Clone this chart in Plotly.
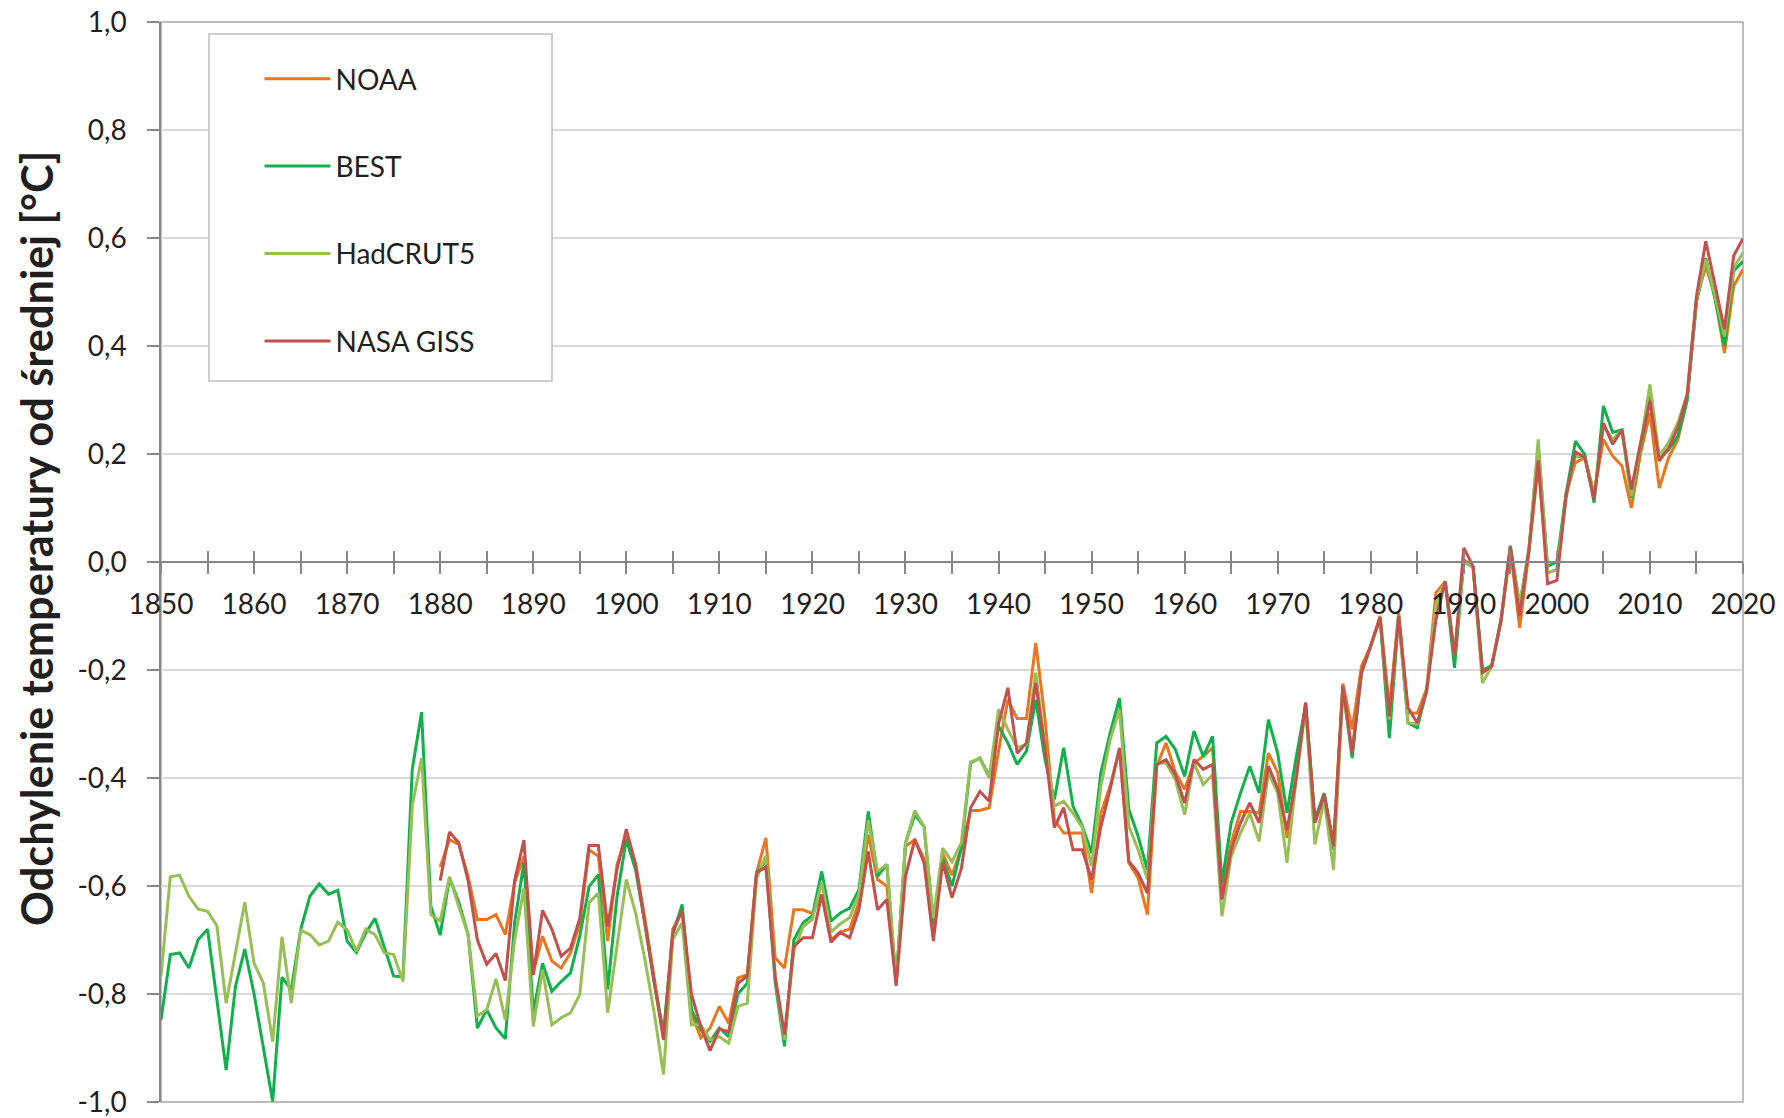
import plotly.graph_objects as go

years_long = list(range(1850, 2021))
years_short = list(range(1880, 2021))

best = [
    -0.848, -0.727, -0.724, -0.752, -0.699, -0.680, -0.81, -0.941, -0.786, -0.717,
    -0.80, -0.90, -0.999, -0.769, -0.792, -0.681, -0.619, -0.596, -0.615, -0.608,
    -0.702, -0.723, -0.687, -0.660, -0.712, -0.767, -0.768, -0.384, -0.278, -0.638,
    -0.691, -0.585, -0.63, -0.69, -0.863, -0.829, -0.863, -0.883, -0.668, -0.557,
    -0.835, -0.743, -0.795, -0.777, -0.761, -0.693, -0.601, -0.579, -0.792, -0.62,
    -0.514, -0.57, -0.67, -0.78, -0.872, -0.69, -0.634, -0.829, -0.866, -0.888,
    -0.863, -0.879, -0.80, -0.78, -0.576, -0.552, -0.78, -0.897, -0.70, -0.668,
    -0.655, -0.573, -0.665, -0.650, -0.641, -0.607, -0.462, -0.582, -0.560, -0.780,
    -0.521, -0.468, -0.49, -0.67, -0.55, -0.60, -0.53, -0.372, -0.363, -0.397,
    -0.304, -0.335, -0.375, -0.35, -0.255, -0.366, -0.44, -0.344, -0.452, -0.489,
    -0.539, -0.39, -0.316, -0.252, -0.458, -0.508, -0.57, -0.335, -0.323, -0.347,
    -0.397, -0.313, -0.36, -0.323, -0.594, -0.483, -0.428, -0.378, -0.428, -0.292,
    -0.354, -0.465, -0.36, -0.265, -0.477, -0.428, -0.533, -0.233, -0.363, -0.205,
    -0.156, -0.105, -0.326, -0.10, -0.298, -0.307, -0.239, -0.094, -0.036, -0.196,
    0.002, -0.01, -0.20, -0.193, -0.107, 0.03, -0.08, 0.023, 0.215, -0.008,
    0.0, 0.128, 0.224, 0.199, 0.11, 0.289, 0.24, 0.245, 0.119, 0.215,
    0.307, 0.193, 0.208, 0.233, 0.30, 0.48, 0.563, 0.486, 0.40, 0.539,
    0.557,
]

hadcrut5 = [
    -0.767, -0.583, -0.580, -0.619, -0.643, -0.647, -0.673, -0.817, -0.724, -0.630,
    -0.743, -0.780, -0.888, -0.694, -0.817, -0.682, -0.690, -0.709, -0.702, -0.667,
    -0.681, -0.721, -0.680, -0.690, -0.724, -0.727, -0.777, -0.452, -0.363, -0.653,
    -0.665, -0.583, -0.638, -0.690, -0.841, -0.829, -0.772, -0.848, -0.70, -0.604,
    -0.860, -0.755, -0.857, -0.844, -0.835, -0.801, -0.631, -0.613, -0.835, -0.71,
    -0.588, -0.65, -0.736, -0.835, -0.949, -0.699, -0.668, -0.857, -0.857, -0.885,
    -0.879, -0.891, -0.823, -0.817, -0.586, -0.544, -0.77, -0.885, -0.72, -0.675,
    -0.662, -0.593, -0.685, -0.67, -0.659, -0.615, -0.478, -0.573, -0.56, -0.78,
    -0.521, -0.46, -0.49, -0.66, -0.53, -0.555, -0.52, -0.37, -0.364, -0.40,
    -0.273, -0.31, -0.344, -0.338, -0.205, -0.341, -0.452, -0.443, -0.465, -0.492,
    -0.563, -0.415, -0.329, -0.273, -0.489, -0.533, -0.588, -0.372, -0.372, -0.403,
    -0.468, -0.372, -0.412, -0.394, -0.656, -0.545, -0.502, -0.465, -0.517, -0.39,
    -0.428, -0.557, -0.40, -0.27, -0.523, -0.44, -0.57, -0.24, -0.35, -0.205,
    -0.156, -0.105, -0.292, -0.10, -0.298, -0.30, -0.239, -0.08, -0.036, -0.17,
    0.0, -0.01, -0.224, -0.193, -0.107, 0.025, -0.08, 0.023, 0.227, -0.02,
    -0.014, 0.12, 0.196, 0.193, 0.122, 0.252, 0.227, 0.245, 0.122, 0.218,
    0.329, 0.196, 0.221, 0.258, 0.31, 0.486, 0.56, 0.492, 0.418, 0.545,
    0.573,
]

noaa = [
    -0.565, -0.514, -0.523, -0.582, -0.662, -0.662, -0.653, -0.690, -0.594, -0.545,
    -0.761, -0.693, -0.739, -0.752, -0.724, -0.67, -0.533, -0.545, -0.702, -0.561,
    -0.508, -0.56, -0.66, -0.77, -0.88, -0.68, -0.645, -0.835, -0.881, -0.863,
    -0.823, -0.854, -0.770, -0.764, -0.576, -0.511, -0.733, -0.752, -0.644, -0.644,
    -0.651, -0.616, -0.70, -0.685, -0.68, -0.63, -0.505, -0.588, -0.60, -0.78,
    -0.527, -0.514, -0.55, -0.69, -0.54, -0.58, -0.53, -0.46, -0.46, -0.455,
    -0.35, -0.255, -0.29, -0.29, -0.15, -0.292, -0.477, -0.502, -0.502, -0.502,
    -0.613, -0.465, -0.415, -0.347, -0.557, -0.585, -0.653, -0.378, -0.335, -0.39,
    -0.421, -0.372, -0.36, -0.344, -0.613, -0.52, -0.462, -0.462, -0.465, -0.354,
    -0.39, -0.511, -0.39, -0.26, -0.48, -0.43, -0.52, -0.225, -0.31, -0.193,
    -0.156, -0.10, -0.27, -0.094, -0.279, -0.28, -0.235, -0.057, -0.036, -0.175,
    0.005, -0.01, -0.205, -0.19, -0.11, 0.025, -0.122, 0.02, 0.18, -0.02,
    -0.014, 0.128, 0.184, 0.193, 0.128, 0.227, 0.196, 0.178, 0.10, 0.202,
    0.276, 0.137, 0.193, 0.227, 0.30, 0.486, 0.548, 0.492, 0.387, 0.511,
    0.542,
]

nasa_giss = [
    -0.59, -0.50, -0.52, -0.59, -0.70, -0.745, -0.725, -0.775, -0.59, -0.515,
    -0.765, -0.645, -0.68, -0.73, -0.715, -0.66, -0.525, -0.525, -0.675, -0.57,
    -0.495, -0.56, -0.67, -0.78, -0.885, -0.685, -0.645, -0.80, -0.86, -0.905,
    -0.865, -0.87, -0.78, -0.767, -0.575, -0.565, -0.767, -0.875, -0.712, -0.696,
    -0.696, -0.616, -0.704, -0.686, -0.696, -0.644, -0.536, -0.644, -0.625, -0.785,
    -0.582, -0.514, -0.557, -0.702, -0.556, -0.622, -0.568, -0.455, -0.425, -0.443,
    -0.30, -0.233, -0.354, -0.335, -0.224, -0.347, -0.492, -0.455, -0.533, -0.533,
    -0.588, -0.49, -0.42, -0.344, -0.554, -0.576, -0.613, -0.375, -0.366, -0.394,
    -0.446, -0.366, -0.384, -0.375, -0.625, -0.533, -0.483, -0.446, -0.483, -0.378,
    -0.42, -0.496, -0.40, -0.261, -0.483, -0.431, -0.526, -0.23, -0.354, -0.205,
    -0.156, -0.103, -0.286, -0.10, -0.27, -0.298, -0.239, -0.107, -0.036, -0.175,
    0.026, -0.008, -0.205, -0.193, -0.107, 0.029, -0.10, 0.023, 0.188, -0.04,
    -0.034, 0.124, 0.204, 0.193, 0.116, 0.257, 0.218, 0.245, 0.134, 0.221,
    0.298, 0.187, 0.211, 0.249, 0.31, 0.492, 0.594, 0.511, 0.431, 0.567,
    0.599,
]

series_names = ["NOAA", "BEST", "HadCRUT5", "NASA GISS"]
y_tick_values = [-1.0, -0.8, -0.6, -0.4, -0.2, 0.0, 0.2, 0.4, 0.6, 0.8, 1.0]
y_tick_labels = ["-1,0", "-0,8", "-0,6", "-0,4", "-0,2", "0,0", "0,2", "0,4", "0,6", "0,8", "1,0"]
y_title = "Odchylenie temperatury od średniej [°C]"

colors = ["#E8771E", "#12B04C", "#97BF55", "#C2504C"]
FONT = "Lato"
TXT = "#1f1f1f"
AX = "#868686"

# plot area in page pixels: x 161..1743, y 22..1102
PW, PH = 1582, 1080

fig = go.Figure()
series = [(years_short, noaa), (years_long, best), (years_long, hadcrut5), (years_short, nasa_giss)]
for i, ((xs, ys), name) in enumerate(zip(series, series_names)):
    fig.add_trace(go.Scatter(
        x=xs, y=ys, name=name, mode="lines",
        line=dict(color=colors[i], width=3),
        legendgroup=name,
    ))

# helper trace to carry the second (inside-tick) x axis
fig.add_trace(go.Scatter(
    x=years_long, y=best, xaxis="x2", yaxis="y", mode="lines",
    line=dict(width=0, color="rgba(0,0,0,0)"), showlegend=False, hoverinfo="skip",
))

tick_common = dict(ticklen=11, tickwidth=1.5, tickcolor=AX)

fig.update_layout(
    width=1784, height=1118,
    margin=dict(l=161, r=41, t=22, b=16, autoexpand=False),
    paper_bgcolor="white", plot_bgcolor="white",
    showlegend=True,
    legend=dict(
        x=(259.5 - 161) / PW, y=1 - (54 - 22) / PH, xanchor="left", yanchor="top",
        bgcolor="rgba(0,0,0,0)", borderwidth=0,
        font=dict(family=FONT, size=28, color=TXT),
        itemwidth=66, tracegroupgap=48,
    ),
    xaxis=dict(
        range=[1850, 2020], anchor="free", position=0.5, automargin=False,
        showline=True, linecolor=AX, linewidth=1.5,
        ticks="outside", tick0=1850, dtick=10, **tick_common,
        minor=dict(dtick=5, tick0=1850, ticks="outside", showgrid=False, **tick_common),
        showgrid=False, zeroline=False,
        tickfont=dict(family=FONT, size=28, color=TXT),
        ticklabelstandoff=7, ticklabeloverflow="allow",
    ),
    xaxis2=dict(
        range=[1850, 2020], overlaying="x", anchor="free", position=0.5, side="bottom",
        automargin=False,
        showline=False, ticks="inside", tick0=1850, dtick=10, **tick_common,
        minor=dict(dtick=5, tick0=1850, ticks="inside", showgrid=False, **tick_common),
        showticklabels=False, showgrid=False, zeroline=False,
    ),
    yaxis=dict(
        range=[-1, 1], tickvals=y_tick_values, ticktext=y_tick_labels, automargin=False,
        showline=True, linecolor=AX, linewidth=1.5,
        ticks="outside", ticklen=12, tickwidth=1.5, tickcolor=AX,
        showgrid=True, gridcolor="#D9D9D9", gridwidth=1.5, zeroline=False,
        tickfont=dict(family=FONT, size=28, color=TXT),
        ticklabelstandoff=15, ticklabeloverflow="allow",
    ),
    annotations=[
        dict(text=y_title, xref="paper", yref="paper",
             x=(36 - 161) / PW, y=1 - (539 - 22) / PH,
             xanchor="center", yanchor="middle", textangle=-90, showarrow=False,
             font=dict(family=FONT, size=43.3, color=TXT, weight="bold")),
    ],
    shapes=[
        dict(type="rect", xref="paper", yref="paper", x0=0, y0=0, x1=1, y1=1,
             line=dict(color="#A6A6A6", width=1.5), layer="below"),
        dict(type="rect", xref="paper", yref="paper",
             x0=(209 - 161) / PW, x1=(552 - 161) / PW,
             y0=1 - (381 - 22) / PH, y1=1 - (34 - 22) / PH,
             line=dict(color="#BFBFBF", width=1.5), fillcolor="white", layer="above"),
    ],
)

fig.write_html(
    "out.html",
    config={"displayModeBar": False},
    post_script="document.body.style.margin='0';document.body.style.overflow='hidden';",
)
